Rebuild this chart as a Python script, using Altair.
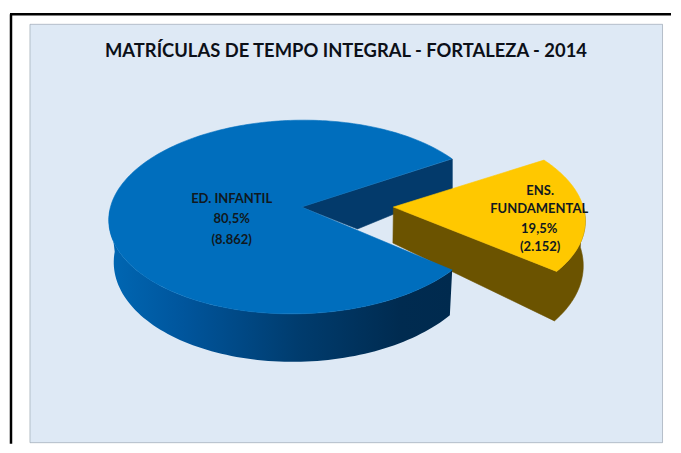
import numpy as np
import pandas as pd
import altair as alt

# Values
categories = ["ED. INFANTIL", "ENS. FUNDAMENTAL"]
shares = [80.5, 19.5]
counts = ["8.862", "2.152"]
title_text = "MATRÍCULAS DE TEMPO INTEGRAL - FORTALEZA - 2014"

# Layout (image pixels)
W, H = 665, 436
X_DOM, Y_DOM = [8, 8 + W], [8 + H, 8]

sweep_blue = shares[0] * 3.6
sweep_gold = shares[1] * 3.6
START_BLUE = 37.0
START_GOLD = 36.0


def arc(cx, cy, rx, ry, k, t0, t1, n=90):
    t = np.radians(np.linspace(t0, t1, n))
    return np.cos(t) * rx + cx + k * np.sin(t), cy - ry * np.sin(t)


def poly(parts):
    xs = np.concatenate([np.atleast_1d(p[0]) for p in parts])
    ys = np.concatenate([np.atleast_1d(p[1]) for p in parts])
    return pd.DataFrame({"x": xs, "y": ys, "i": np.arange(len(xs))})


X = alt.X("x:Q", scale=alt.Scale(domain=X_DOM, nice=False, zero=False), axis=None)
Y = alt.Y("y:Q", scale=alt.Scale(domain=Y_DOM, nice=False, zero=False), axis=None)


def shape(df, fill, stroke=None):
    kw = dict(fill=fill, interpolate="linear-closed", strokeWidth=0.6, clip=False)
    kw["stroke"] = stroke if stroke else (fill if isinstance(fill, str) else "#00000000")
    return alt.Chart(df).mark_line(**kw).encode(x=X, y=Y, order=alt.Order("i:Q"))


BLUE_TOP = (298, 217, 189, 97, 6)
BLUE_LOW = (299, 259, 185, 103, 6)
APEX_BLUE = (302, 207)
GOLD_TOP = (395, 217, 191, 97, -8)
GOLD_LOW = (395, 262, 189, 105, -7)
APEX_GOLD = (394, 207)
APEX_GOLD_LOW = (393.5, 243)

blue_end = START_BLUE + sweep_blue
gold_end = START_GOLD - sweep_gold

panel = poly([([30, 663.5, 663.5, 30], [24, 24, 443, 443])])

# inner wall seen through the gap
wall = poly([([302, 453, 453, 358], [207, 159, 190, 229])])

gold_side = poly([
    ([APEX_GOLD[0], APEX_GOLD_LOW[0]], [APEX_GOLD[1], APEX_GOLD_LOW[1]]),
    arc(*GOLD_LOW, gold_end, 8),
    arc(*GOLD_TOP, 8, gold_end),
])
gold_top = poly([
    ([APEX_GOLD[0]], [APEX_GOLD[1]]),
    arc(*GOLD_TOP, START_GOLD, gold_end),
])
blue_side = poly([
    arc(*BLUE_TOP, 176, blue_end),
    arc(*BLUE_LOW, blue_end, 176),
])
blue_top = poly([
    ([APEX_BLUE[0]], [APEX_BLUE[1]]),
    arc(*BLUE_TOP, START_BLUE, blue_end, 240),
])

side_gradient = alt.LinearGradient(
    gradient="linear", x1=0, x2=1, y1=0, y2=0,
    stops=[
        alt.GradientStop(color="#0067b3", offset=0.0),
        alt.GradientStop(color="#00559c", offset=0.22),
        alt.GradientStop(color="#003c6e", offset=0.55),
        alt.GradientStop(color="#002b50", offset=0.85),
        alt.GradientStop(color="#002a4e", offset=1.0),
    ],
)

labels = pd.DataFrame({
    "x": [232, 232, 232, 541, 540, 540, 541],
    "y": [199, 219, 240, 191, 209, 229, 247],
    "t": ["ED. INFANTIL", f"{shares[0]:.1f}%".replace(".", ","), f"({counts[0]})",
          "ENS.", "FUNDAMENTAL", f"{shares[1]:.1f}%".replace(".", ","), f"({counts[1]})"],
})

text_layer = alt.Chart(labels).mark_text(
    font="Lato", fontWeight="bold", fontSize=13, color="#101820", align="center", baseline="middle"
).encode(x=X, y=Y, text="t:N")

title_layer = alt.Chart(pd.DataFrame({"x": [346.5], "y": [51], "t": [title_text]})).mark_text(
    font="Lato", fontWeight="bold", fontSize=18.4, color="#0c1018", align="center", baseline="middle"
).encode(x=X, y=Y, text="t:N")

frame_left = alt.Chart(pd.DataFrame({"x": [11], "y": [14], "y2": [444]})).mark_rule(
    color="#000000", strokeWidth=2.5, clip=False
).encode(x=X, y=Y, y2="y2:Q")
frame_top_l = alt.Chart(pd.DataFrame({"x": [10], "x2": [672], "y": [14]})).mark_rule(
    color="#000000", strokeWidth=2.5, clip=False
).encode(x=X, x2="x2:Q", y=Y)

chart = alt.layer(
    frame_left, frame_top_l,
    shape(panel, "#dee9f5", "#8f9aa8"),
    shape(wall, "#033a6b"),
    shape(gold_side, "#6b5300"),
    shape(gold_top, "#ffc800"),
    shape(blue_side, side_gradient),
    shape(blue_top, "#006ebd"),
    text_layer,
    title_layer,
).properties(width=W, height=H, background="white", padding=0).configure_view(stroke=None)

chart.save("out.html", embed_options={"renderer": "svg", "actions": False})
